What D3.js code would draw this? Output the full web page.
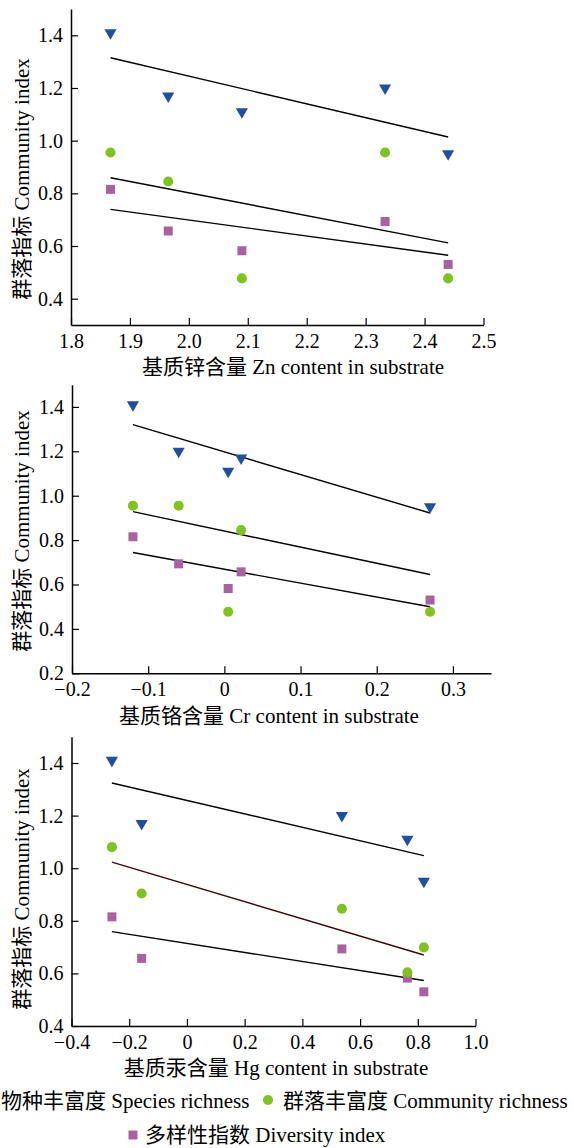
<!DOCTYPE html>
<html>
<head>
<meta charset="utf-8">
<script src="https://cdn.jsdelivr.net/npm/d3@7"></script>
<style>
  html, body { margin: 0; padding: 0; background: #fff; }
  svg { display: block; }
  text { font-family: "Liberation Serif", "Noto Sans CJK SC", serif; fill: #000; }
</style>
</head>
<body>
<svg id="chart" width="574" height="1148"></svg>
<script>
// ---- Data: five sampling sites, three community indices ----
const speciesRichness   = [1.41, 1.17, 1.11, 1.20, 0.95];
const communityRichness = [0.955, 0.845, 0.477, 0.955, 0.477];
const communityRichnessHg = [1.08, 0.904, 0.604, 0.846, 0.699];
const diversityIndex    = [0.815, 0.657, 0.582, 0.693, 0.530];

// Heavy-metal content in substrate at each site
const znContent = [1.867, 1.965, 2.09, 2.333, 2.44];
const crContent = [-0.12, 0.022, 0.005, -0.06, 0.27];
const hgContent = [-0.26, -0.157, 0.764, 0.537, 0.821];

// Fitted trend values at the lowest and highest content of each panel
const znFitSpecies   = [1.315, 1.014];
const znFitCommunity = [0.859, 0.612];
const znFitDiversity = [0.739, 0.565];
const crFitSpecies   = [1.320, 0.922];
const crFitCommunity = [0.928, 0.645];
const crFitDiversity = [0.744, 0.500];
const hgFitSpecies   = [1.324, 1.048];
const hgFitCommunity = [1.023, 0.670];
const hgFitDiversity = [0.759, 0.573];

// Tick values and labels
const znTicks = [1.8, 1.9, 2.0, 2.1, 2.2, 2.3, 2.4, 2.5];
const znTickLabels = ["1.8", "1.9", "2.0", "2.1", "2.2", "2.3", "2.4", "2.5"];
const crTicks = [-0.2, -0.1, 0, 0.1, 0.2, 0.3];
const crTickLabels = ["\u22120.2", "\u22120.1", "0", "0.1", "0.2", "0.3"];
const hgTicks = [-0.4, -0.2, 0, 0.2, 0.4, 0.6, 0.8, 1.0];
const hgTickLabels = ["\u22120.4", "\u22120.2", "0", "0.2", "0.4", "0.6", "0.8", "1.0"];
const yTicksA = [0.4, 0.6, 0.8, 1.0, 1.2, 1.4];
const yTickLabelsA = ["0.4", "0.6", "0.8", "1.0", "1.2", "1.4"];
const yTicksB = [0.2, 0.4, 0.6, 0.8, 1.0, 1.2, 1.4];
const yTickLabelsB = ["0.2", "0.4", "0.6", "0.8", "1.0", "1.2", "1.4"];

const yTitle = "群落指标 Community index";
const seriesNames = ["物种丰富度 Species richness", "群落丰富度 Community richness", "多样性指数 Diversity index"];

// ---- Styles ----
const COLORS = { species: "#1f4f9f", community: "#7fc31f", diversity: "#aa61a1" };
const SERIF = '"Liberation Serif", "Noto Sans CJK SC", serif';

const svg = d3.select("#chart");

const panels = [
  {
    x: znContent, xDomain: [1.8, 2.5], xRange: [71, 483.5],
    yDomain: [0.3, 1.5], yRange: [325, 9],
    xTicks: znTicks, xLabels: znTickLabels, yTicks: yTicksA, yLabels: yTickLabelsA,
    species: speciesRichness, community: communityRichness, diversity: diversityIndex,
    fits: [znFitSpecies, znFitCommunity, znFitDiversity],
    fitColors: ["#000", "#000", "#000"],
    xTitle: "基质锌含量 Zn content in substrate", xTitleX: 293, xTitleY: 374, yTitleY: 179
  },
  {
    x: crContent, xDomain: [-0.2, 0.35], xRange: [72, 491],
    yDomain: [0.2, 1.5], yRange: [673.3, 384.7],
    xTicks: crTicks, xLabels: crTickLabels, yTicks: yTicksB, yLabels: yTickLabelsB,
    species: speciesRichness, community: communityRichness, diversity: diversityIndex,
    fits: [crFitSpecies, crFitCommunity, crFitDiversity],
    fitColors: ["#000", "#000", "#000"],
    xTitle: "基质铬含量 Cr content in substrate", xTitleX: 269, xTitleY: 723, yTitleY: 531
  },
  {
    x: hgContent, xDomain: [-0.4, 1.0], xRange: [71.5, 475.5],
    yDomain: [0.4, 1.5], yRange: [1026, 736.7],
    xTicks: hgTicks, xLabels: hgTickLabels, yTicks: yTicksA, yLabels: yTickLabelsA,
    species: speciesRichness, community: communityRichnessHg, diversity: diversityIndex,
    fits: [hgFitSpecies, hgFitCommunity, hgFitDiversity],
    fitColors: ["#000", "#3a0808", "#000"],
    xTitle: "基质汞含量 Hg content in substrate", xTitleX: 276, xTitleY: 1075, yTitleY: 889
  }
];

const triangle = d3.symbol().type(d3.symbolTriangle).size(64);
const circle = d3.symbol().type(d3.symbolCircle).size(80);
const square = d3.symbol().type(d3.symbolSquare).size(81);

panels.forEach(p => {
  const xs = d3.scaleLinear().domain(p.xDomain).range(p.xRange);
  const ys = d3.scaleLinear().domain(p.yDomain).range(p.yRange);
  const g = svg.append("g");

  // Axes with inward ticks
  const xAxis = d3.axisBottom(xs).tickValues(p.xTicks)
    .tickFormat((d, i) => p.xLabels[i]).tickSizeInner(-7).tickSizeOuter(0).tickPadding(9);
  const yAxis = d3.axisLeft(ys).tickValues(p.yTicks)
    .tickFormat((d, i) => p.yLabels[i]).tickSizeInner(-7).tickSizeOuter(0).tickPadding(8);

  const gx = g.append("g").attr("transform", `translate(0,${p.yRange[0]})`).call(xAxis);
  const gy = g.append("g").attr("transform", `translate(${p.xRange[0]},0)`).call(yAxis);
  [gx, gy].forEach(a => {
    a.attr("font-family", SERIF).attr("font-size", 20);
    a.selectAll("path.domain").attr("stroke", "#000").attr("stroke-width", 1.5);
    a.selectAll(".tick line").attr("stroke", "#000").attr("stroke-width", 1.2);
    a.selectAll(".tick text").style("font-size", "20px")
      .style("font-family", SERIF).attr("fill", "#000");
  });

  // Trend lines
  const ext = d3.extent(p.x);
  p.fits.forEach((f, i) => {
    g.append("line")
      .attr("x1", xs(ext[0])).attr("y1", ys(f[0]))
      .attr("x2", xs(ext[1])).attr("y2", ys(f[1]))
      .attr("stroke", p.fitColors[i]).attr("stroke-width", 1.4);
  });

  // Points
  const pts = (vals, sym, color, rot) => {
    g.append("g").selectAll("path").data(vals).join("path")
      .attr("d", sym)
      .attr("transform", (d, i) => `translate(${xs(p.x[i])},${ys(d)})${rot ? " rotate(180)" : ""}`)
      .attr("fill", color);
  };
  pts(p.diversity, square, COLORS.diversity, false);
  pts(p.community, circle, COLORS.community, false);
  pts(p.species, triangle, COLORS.species, true);

  // Axis titles
  g.append("text").attr("x", p.xTitleX).attr("y", p.xTitleY)
    .attr("text-anchor", "middle").style("font-size", "21px").text(p.xTitle);
  g.append("text")
    .attr("transform", `translate(22,${p.yTitleY}) rotate(-90)`)
    .attr("text-anchor", "middle").attr("dominant-baseline", "central")
    .style("font-size", "21px").text(yTitle);
});

// ---- Legend ----
const leg = svg.append("g").style("font-size", "21px");
const t1 = leg.append("text").attr("x", 1).attr("y", 1108).text(seriesNames[0]);
leg.append("path").attr("d", triangle)
  .attr("transform", "translate(-12,1100) rotate(180)").attr("fill", COLORS.species);
leg.append("path").attr("d", circle).attr("transform", "translate(268,1100)").attr("fill", COLORS.community);
leg.append("text").attr("x", 283).attr("y", 1108).text(seriesNames[1]);
leg.append("path").attr("d", square).attr("transform", "translate(133,1135)").attr("fill", COLORS.diversity);
leg.append("text").attr("x", 145).attr("y", 1142).text(seriesNames[2]);
</script>
</body>
</html>
